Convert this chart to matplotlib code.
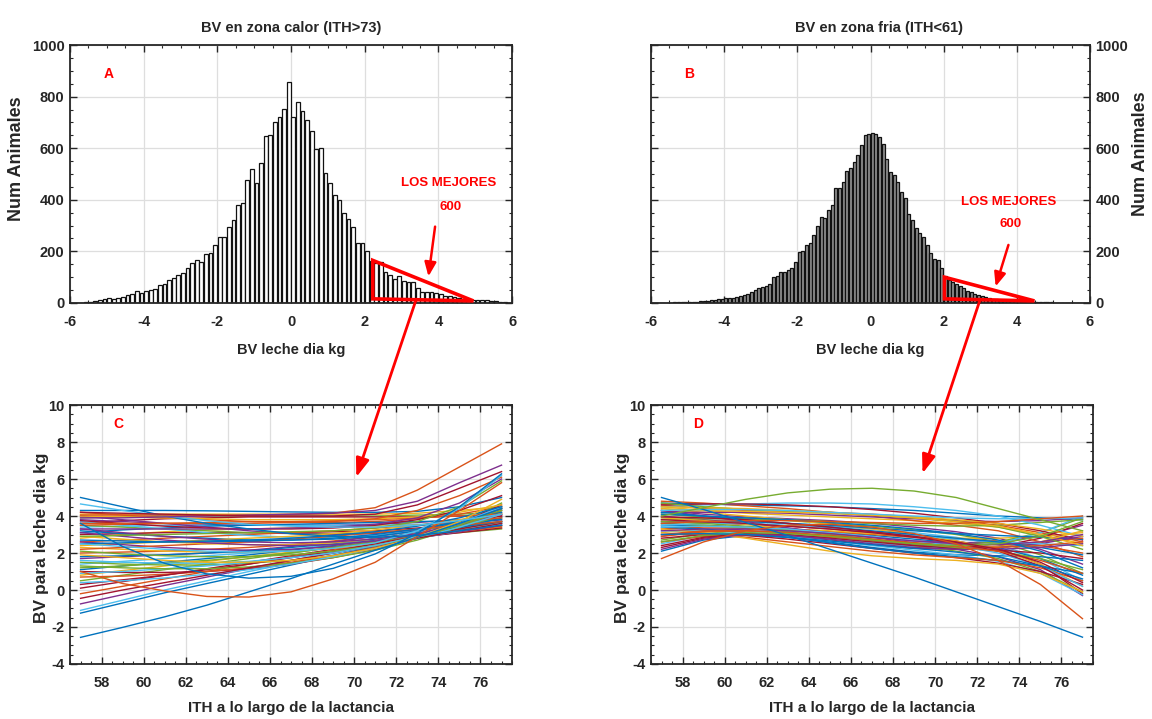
import numpy as np
import matplotlib
matplotlib.use("Agg")
import matplotlib.pyplot as plt
from matplotlib.patches import Polygon, ConnectionPatch
from matplotlib.ticker import MultipleLocator

NARROW = ["Liberation Sans Narrow", "Liberation Sans", "DejaVu Sans"]
WIDE = ["Liberation Sans", "DejaVu Sans"]
plt.rcParams["font.family"] = NARROW
plt.rcParams["font.weight"] = "bold"
plt.rcParams["axes.unicode_minus"] = False

MATLAB = ["#0072BD", "#D95319", "#EDB120", "#7E2F8E", "#77AC30", "#4DBEEE", "#A2142F"]
INK = "#262626"

# ---- histogram A: BV in hot zone (ITH>73), 96 bins of 0.125 from -6 to 6
calor_edges = np.linspace(-6, 6, 97)
calor_counts = [0, 0, 1, 2, 3, 6, 10, 14, 18, 16,
                18, 22, 30, 35, 46, 40, 45, 52, 55, 70,
                72, 90, 95, 110, 118, 135, 155, 165, 160, 190,
                195, 225, 255, 255, 296, 322, 380, 386, 477, 518,
                466, 541, 647, 651, 703, 722, 751, 856, 720, 781,
                746, 708, 665, 598, 602, 502, 466, 418, 401, 350,
                324, 296, 234, 234, 200, 163, 154, 157, 122, 108,
                93, 103, 84, 80, 80, 58, 44, 44, 44, 39,
                33, 28, 26, 22, 18, 17, 13, 13, 12, 13,
                10, 8, 6, 4, 3, 1]

# ---- histogram B: BV in cold zone (ITH<61), 120 bins of 0.1 from -6 to 6
frio_edges = np.linspace(-6, 6, 121)
frio_counts = [0, 0, 0, 1, 1, 1, 2, 2, 2, 3,
               4, 5, 5, 6, 8, 9, 11, 13, 15, 17,
               18, 20, 19, 24, 28, 32, 36, 42, 50, 58,
               63, 66, 72, 100, 103, 120, 122, 128, 135, 160,
               198, 200, 225, 232, 262, 300, 335, 330, 362, 380,
               444, 444, 470, 510, 522, 545, 575, 612, 651, 656,
               658, 655, 645, 615, 560, 509, 496, 470, 432, 406,
               345, 322, 290, 270, 257, 225, 193, 172, 165, 134,
               103, 90, 82, 74, 65, 58, 48, 42, 36, 30,
               26, 22, 20, 17, 14, 12, 11, 9, 8, 7,
               6, 5, 5, 4, 4, 3, 3, 2, 2, 2,
               1, 1, 1, 1, 0, 0, 0, 0, 0, 0]

# ---- BV curves of the 600 best animals along ITH
ith = [57, 59, 61, 63, 65, 67, 69, 71, 73, 75, 77]

calor_curves = [
    [4.3, 4.3, 4.3, 4.28, 4.25, 4.22, 4.2, 4.2, 4.25, 4.5, 5.0],
    [2.0, 2.05, 2.1, 2.2, 2.3, 2.45, 2.65, 2.9, 3.2, 3.6, 4.1],
    [4.1, 4.1, 4.1, 4.1, 4.1, 4.1, 4.1, 4.1, 4.15, 4.3, 4.5],
    [1.7, 1.8, 1.9, 2.0, 2.15, 2.35, 2.6, 2.9, 3.2, 3.5, 3.8],
    [3.9, 3.95, 4.0, 4.0, 4.0, 4.0, 4.0, 4.0, 4.05, 4.1, 4.2],
    [1.4, 1.55, 1.7, 1.85, 2.0, 2.2, 2.45, 2.75, 3.05, 3.35, 3.6],
    [3.6, 3.75, 3.85, 3.9, 3.95, 3.95, 3.95, 3.95, 3.95, 4.0, 4.0],
    [1.1, 1.3, 1.5, 1.7, 1.9, 2.15, 2.4, 2.7, 3.0, 3.25, 3.5],
    [4.2, 4.05, 3.9, 3.8, 3.7, 3.65, 3.65, 3.7, 3.85, 4.1, 4.5],
    [0.8, 1.05, 1.3, 1.55, 1.8, 2.05, 2.3, 2.6, 2.9, 3.15, 3.4],
    [3.8, 3.7, 3.6, 3.55, 3.5, 3.5, 3.5, 3.55, 3.65, 3.8, 4.0],
    [0.5, 0.8, 1.1, 1.4, 1.7, 2.0, 2.3, 2.6, 2.9, 3.1, 3.3],
    [3.4, 3.45, 3.5, 3.5, 3.5, 3.5, 3.5, 3.5, 3.55, 3.6, 3.7],
    [0.1, 0.45, 0.8, 1.15, 1.5, 1.85, 2.2, 2.55, 2.85, 3.1, 3.35],
    [3.1, 3.25, 3.35, 3.45, 3.5, 3.55, 3.6, 3.65, 3.7, 3.75, 3.8],
    [-0.2, 0.2, 0.6, 1.0, 1.4, 1.8, 2.15, 2.5, 2.85, 3.15, 3.45],
    [2.8, 3.0, 3.15, 3.25, 3.3, 3.35, 3.4, 3.45, 3.5, 3.55, 3.6],
    [-0.75, -0.25, 0.25, 0.7, 1.15, 1.6, 2.0, 2.4, 2.8, 3.15, 3.5],
    [3.5, 3.4, 3.3, 3.2, 3.1, 3.05, 3.05, 3.1, 3.25, 3.5, 3.9],
    [-1.1, -0.55, 0.0, 0.5, 1.0, 1.45, 1.9, 2.35, 2.8, 3.2, 3.6],
    [3.0, 3.05, 3.1, 3.1, 3.1, 3.1, 3.15, 3.2, 3.35, 3.6, 4.0],
    [-1.25, -0.7, -0.15, 0.35, 0.85, 1.35, 1.85, 2.35, 2.85, 3.35, 3.9],
    [2.6, 2.7, 2.8, 2.9, 3.0, 3.1, 3.2, 3.35, 3.5, 3.7, 3.9],
    [2.3, 2.2, 2.1, 2.05, 2.05, 2.1, 2.25, 2.5, 2.9, 3.5, 4.3],
    [4.0, 3.8, 3.6, 3.4, 3.2, 3.05, 3.0, 3.05, 3.25, 3.7, 4.4],
    [1.5, 1.4, 1.35, 1.35, 1.45, 1.6, 1.85, 2.25, 2.8, 3.6, 4.7],
    [3.7, 3.5, 3.3, 3.1, 2.95, 2.85, 2.85, 2.95, 3.2, 3.7, 4.5],
    [1.0, 0.95, 0.95, 1.0, 1.15, 1.4, 1.75, 2.2, 2.8, 3.6, 4.6],
    [3.2, 3.05, 2.9, 2.8, 2.7, 2.7, 2.75, 2.9, 3.2, 3.7, 4.4],
    [0.7, 0.75, 0.85, 1.0, 1.2, 1.5, 1.85, 2.3, 2.85, 3.5, 4.3],
    [2.4, 2.5, 2.6, 2.7, 2.8, 2.9, 3.05, 3.25, 3.5, 3.8, 4.1],
    [2.6, 2.45, 2.3, 2.2, 2.15, 2.2, 2.35, 2.6, 3.0, 3.6, 4.4],
    [1.2, 1.3, 1.45, 1.6, 1.8, 2.0, 2.3, 2.6, 2.95, 3.3, 3.7],
    [0.9, 1.0, 1.15, 1.3, 1.5, 1.75, 2.05, 2.4, 2.8, 3.2, 3.6],
    [0.3, 0.55, 0.8, 1.1, 1.4, 1.75, 2.1, 2.5, 2.9, 3.3, 3.7],
    [1.8, 1.85, 1.9, 2.0, 2.1, 2.3, 2.5, 2.8, 3.1, 3.4, 3.7],
    [2.2, 2.3, 2.4, 2.5, 2.6, 2.75, 2.9, 3.1, 3.3, 3.5, 3.7],
    [2.9, 2.75, 2.6, 2.5, 2.45, 2.45, 2.55, 2.75, 3.05, 3.5, 4.1],
    [3.3, 3.1, 2.9, 2.75, 2.6, 2.55, 2.6, 2.75, 3.05, 3.5, 4.1],
    [1.3, 1.2, 1.15, 1.15, 1.25, 1.45, 1.75, 2.15, 2.7, 3.4, 4.3],
    [0.4, 0.5, 0.65, 0.85, 1.1, 1.4, 1.8, 2.25, 2.8, 3.4, 4.1],
    [-0.45, 0.0, 0.4, 0.8, 1.2, 1.6, 2.0, 2.4, 2.8, 3.2, 3.6],
    [2.7, 2.65, 2.6, 2.6, 2.65, 2.7, 2.8, 3.0, 3.3, 3.7, 4.2],
    [3.5, 3.55, 3.6, 3.65, 3.7, 3.7, 3.75, 3.8, 3.9, 4.0, 4.1],
    [4.0, 3.95, 3.9, 3.85, 3.8, 3.8, 3.8, 3.85, 3.95, 4.2, 4.6],
    [3.1, 2.9, 2.7, 2.55, 2.45, 2.4, 2.45, 2.65, 3.0, 3.6, 4.5],
    [2.1, 1.95, 1.85, 1.8, 1.8, 1.9, 2.1, 2.4, 2.85, 3.5, 4.4],
    [1.6, 1.5, 1.45, 1.45, 1.55, 1.75, 2.0, 2.4, 2.9, 3.6, 4.5],
    [3.75, 3.6, 3.45, 3.35, 3.3, 3.3, 3.35, 3.5, 3.8, 4.3, 5.1],
    [2.5, 2.55, 2.6, 2.65, 2.7, 2.8, 2.95, 3.15, 3.45, 3.9, 4.5],
    [3.6, 3.6, 3.6, 3.6, 3.6, 3.65, 3.7, 3.85, 4.3, 5.1, 6.1],
    [1.9, 1.75, 1.6, 1.5, 1.5, 1.6, 1.85, 2.25, 2.85, 3.7, 4.9],
    [3.3, 3.3, 3.3, 3.3, 3.3, 3.35, 3.4, 3.55, 3.9, 4.7, 6.0],
    [2.9, 2.95, 3.0, 3.05, 3.1, 3.15, 3.2, 3.35, 3.7, 4.5, 5.9],
    [2.5, 2.35, 2.2, 2.1, 2.05, 2.1, 2.25, 2.55, 3.2, 4.4, 6.2],
]
calor_outliers = [
    [-2.56, -2.02, -1.45, -0.82, -0.1, 0.62, 1.4, 2.15, 2.85, 3.6, 4.4],
    [3.6, 2.35, 1.44, 0.87, 0.64, 0.74, 1.17, 1.95, 3.06, 4.5, 6.28],
    [1.0, 0.35, -0.05, -0.35, -0.38, -0.1, 0.6, 1.5, 2.9, 4.3, 5.8],
    [5.0, 4.5, 4.0, 3.6, 3.3, 3.05, 2.9, 2.85, 2.95, 3.2, 3.5],
    [4.65, 4.3, 4.0, 3.75, 3.55, 3.45, 3.4, 3.4, 3.5, 3.75, 4.1],
    [4.05, 4.05, 4.05, 4.05, 4.05, 4.08, 4.15, 4.45, 5.4, 6.65, 7.9],
    [3.9, 3.9, 3.95, 4.0, 4.05, 4.1, 4.15, 4.3, 4.8, 5.8, 6.75],
    [4.2, 4.15, 4.1, 4.05, 4.0, 4.0, 4.0, 4.1, 4.6, 5.5, 6.4],
]
calor_outlier_colors = [0, 0, 1, 0, 5, 1, 3, 6]

frio_curves = [
    [4.7, 4.65, 4.6, 4.55, 4.5, 4.4, 4.3, 4.15, 4.0, 3.9, 3.8],
    [4.6, 4.4, 4.3, 4.25, 4.2, 4.1, 3.95, 3.75, 3.5, 3.1, 2.6],
    [4.5, 4.3, 4.15, 4.05, 3.95, 3.85, 3.75, 3.6, 3.4, 3.0, 2.5],
    [4.3, 4.1, 3.95, 3.85, 3.75, 3.6, 3.4, 3.15, 2.8, 2.2, 1.4],
    [4.1, 3.95, 3.85, 3.75, 3.6, 3.45, 3.25, 3.0, 2.6, 1.9, 0.9],
    [3.9, 3.8, 3.7, 3.6, 3.45, 3.3, 3.1, 2.85, 2.45, 1.7, 0.5],
    [3.7, 3.65, 3.55, 3.45, 3.3, 3.1, 2.9, 2.65, 2.25, 1.4, -0.2],
    [3.5, 3.5, 3.4, 3.3, 3.15, 2.95, 2.75, 2.55, 2.3, 1.7, 0.8],
    [3.3, 3.4, 3.4, 3.3, 3.15, 3.0, 2.85, 2.75, 2.65, 2.4, 2.0],
    [3.1, 3.3, 3.35, 3.3, 3.2, 3.05, 2.9, 2.8, 2.8, 2.9, 3.1],
    [2.9, 3.2, 3.3, 3.2, 3.05, 2.85, 2.65, 2.55, 2.6, 2.9, 3.5],
    [2.7, 3.05, 3.2, 3.1, 2.9, 2.7, 2.5, 2.45, 2.6, 3.1, 3.9],
    [2.5, 2.95, 3.1, 3.0, 2.8, 2.55, 2.35, 2.3, 2.5, 3.1, 4.0],
    [2.3, 2.8, 3.0, 2.9, 2.7, 2.45, 2.25, 2.2, 2.35, 2.8, 3.6],
    [2.1, 2.7, 2.95, 2.85, 2.6, 2.3, 2.05, 1.9, 1.85, 1.8, 1.6],
    [4.8, 4.7, 4.55, 4.4, 4.2, 4.0, 3.75, 3.5, 3.2, 2.6, 1.8],
    [4.4, 4.2, 4.0, 3.8, 3.55, 3.3, 3.0, 2.65, 2.2, 1.4, 0.2],
    [4.0, 3.8, 3.6, 3.35, 3.1, 2.85, 2.55, 2.2, 1.8, 1.1, -0.3],
    [3.6, 3.5, 3.35, 3.15, 2.9, 2.65, 2.4, 2.1, 1.7, 1.0, -0.1],
    [3.2, 3.2, 3.1, 2.9, 2.65, 2.4, 2.15, 1.9, 1.55, 0.9, -0.25],
    [2.8, 3.0, 2.95, 2.75, 2.5, 2.25, 2.0, 1.75, 1.45, 1.0, 0.3],
    [3.4, 3.3, 3.1, 2.85, 2.55, 2.25, 2.0, 1.8, 1.6, 1.3, 0.9],
    [3.0, 3.0, 2.85, 2.6, 2.35, 2.1, 1.9, 1.75, 1.6, 1.2, 0.5],
    [3.3, 3.1, 2.8, 2.45, 2.1, 1.85, 1.7, 1.6, 1.4, 0.9, -0.1],
    [4.2, 4.2, 4.2, 4.15, 4.05, 3.95, 3.85, 3.75, 3.7, 3.75, 3.9],
    [3.8, 3.85, 3.85, 3.8, 3.7, 3.6, 3.5, 3.45, 3.5, 3.65, 3.8],
    [4.5, 4.6, 4.65, 4.7, 4.7, 4.65, 4.5, 4.3, 4.0, 3.5, 2.9],
    [4.6, 4.65, 4.65, 4.6, 4.5, 4.35, 4.15, 3.9, 3.6, 3.2, 2.7],
    [3.6, 3.7, 3.7, 3.6, 3.5, 3.35, 3.2, 3.05, 2.95, 2.85, 2.75],
    [2.6, 2.9, 3.0, 2.95, 2.85, 2.7, 2.55, 2.45, 2.45, 2.6, 2.8],
    [3.9, 3.75, 3.55, 3.3, 3.0, 2.75, 2.5, 2.35, 2.35, 2.6, 3.2],
    [4.3, 4.0, 3.7, 3.35, 3.0, 2.7, 2.45, 2.3, 2.3, 2.5, 2.9],
    [4.7, 4.5, 4.35, 4.25, 4.15, 4.05, 3.9, 3.7, 3.4, 2.9, 2.2],
    [3.5, 3.6, 3.6, 3.5, 3.35, 3.15, 2.95, 2.75, 2.6, 2.5, 2.4],
    [2.4, 2.85, 3.05, 3.0, 2.8, 2.6, 2.4, 2.25, 2.15, 2.0, 1.7],
    [4.2, 4.0, 3.8, 3.6, 3.4, 3.2, 3.0, 2.8, 2.6, 2.3, 1.9],
    [3.0, 3.2, 3.2, 3.1, 2.9, 2.7, 2.5, 2.35, 2.3, 2.4, 2.6],
    [4.4, 4.3, 4.25, 4.2, 4.15, 4.05, 3.95, 3.8, 3.6, 3.3, 2.9],
    [2.2, 2.75, 3.0, 2.95, 2.75, 2.5, 2.3, 2.2, 2.2, 2.3, 2.5],
    [3.7, 3.6, 3.45, 3.25, 3.0, 2.75, 2.5, 2.3, 2.1, 1.7, 1.1],
    [3.4, 3.45, 3.4, 3.3, 3.1, 2.9, 2.65, 2.4, 2.0, 1.3, 0.2],
    [3.8, 3.7, 3.6, 3.45, 3.3, 3.1, 2.85, 2.55, 2.1, 1.3, 0.0],
    [4.1, 4.0, 3.9, 3.8, 3.65, 3.5, 3.3, 3.05, 2.7, 2.1, 1.2],
    [2.9, 3.15, 3.2, 3.1, 2.95, 2.75, 2.55, 2.35, 2.1, 1.6, 0.9],
    [4.5, 4.45, 4.4, 4.3, 4.2, 4.05, 3.9, 3.7, 3.45, 3.0, 2.4],
    [3.2, 3.3, 3.3, 3.2, 3.05, 2.85, 2.65, 2.5, 2.45, 2.6, 3.0],
    [2.6, 2.95, 3.1, 3.05, 2.9, 2.7, 2.5, 2.4, 2.5, 2.9, 3.7],
    [4.3, 4.35, 4.35, 4.3, 4.2, 4.1, 4.0, 3.9, 3.85, 3.85, 3.9],
    [3.95, 3.9, 3.8, 3.6, 3.4, 3.15, 2.9, 2.6, 2.2, 1.5, 0.4],
    [3.0, 3.05, 3.0, 2.85, 2.65, 2.45, 2.25, 2.05, 1.8, 1.3, 0.6],
    [3.6, 3.7, 3.75, 3.75, 3.7, 3.65, 3.6, 3.6, 3.7, 3.85, 4.0],
]
frio_outliers = [
    [5.0, 4.35, 3.65, 2.95, 2.2, 1.45, 0.7, -0.1, -0.9, -1.7, -2.55],
    [4.0, 4.45, 4.9, 5.25, 5.45, 5.5, 5.35, 5.0, 4.4, 3.8, 3.2],
    [1.7, 2.6, 3.2, 3.5, 3.55, 3.4, 3.05, 2.5, 1.6, 0.3, -1.55],
]
frio_outlier_colors = [0, 4, 1]


def style_axes(ax):
    ax.grid(True, which="major", color="#dedede", lw=0.9)
    ax.set_axisbelow(True)
    for s in ax.spines.values():
        s.set_color(INK)
        s.set_linewidth(1.3)
    ax.tick_params(which="both", direction="in", top=True, right=True,
                   color=INK, labelcolor=INK)
    ax.tick_params(which="major", length=5, width=1.0, labelsize=10.5)
    ax.tick_params(which="minor", length=2.5, width=0.8)
    ax.tick_params(axis="x", pad=9)
    ax.tick_params(axis="y", pad=4)


def red_label(ax, x, y, s, size=10):
    ax.text(x, y, s, color="red", fontsize=size, ha="center", va="center")


fig = plt.figure(figsize=(11.52, 7.19), dpi=100)
axA = fig.add_axes([0.0608, 0.5786, 0.3837, 0.3588])
axB = fig.add_axes([0.5651, 0.5786, 0.3811, 0.3588])
axC = fig.add_axes([0.0608, 0.0765, 0.3837, 0.3602])
axD = fig.add_axes([0.5651, 0.0765, 0.3837, 0.3602])

# ---- histograms
for ax, edges, counts, face in [(axA, calor_edges, calor_counts, "white"),
                                (axB, frio_edges, frio_counts, "#8f8f8f")]:
    centers = (edges[:-1] + edges[1:]) / 2
    width = (edges[1] - edges[0]) * 0.82
    ax.bar(centers, counts, width=width, facecolor=face,
           edgecolor="#111111", linewidth=0.9, zorder=2)
    style_axes(ax)
    ax.set_xlim(-6, 6)
    ax.set_ylim(0, 1000)
    ax.xaxis.set_major_locator(MultipleLocator(2))
    ax.xaxis.set_minor_locator(MultipleLocator(0.5))
    ax.yaxis.set_major_locator(MultipleLocator(200))
    ax.yaxis.set_minor_locator(MultipleLocator(50))
    ax.text(0.5, -0.182, "BV leche dia kg", transform=ax.transAxes,
            ha="center", va="center", fontsize=10.5, color=INK)

axB.tick_params(axis="y", labelleft=False, labelright=True)

axA.text(0.5, 1.066, "BV en zona calor (ITH>73)", transform=axA.transAxes,
         ha="center", va="center", fontsize=10.5, color=INK)
axB.text(0.52, 1.066, "BV en zona fria (ITH<61)", transform=axB.transAxes,
         ha="center", va="center", fontsize=10.5, color=INK)
axA.text(-0.12, 0.56, "Num Animales", transform=axA.transAxes, rotation=90,
         ha="center", va="center", fontsize=13, color=INK, family=WIDE)
axB.text(1.115, 0.58, "Num Animales", transform=axB.transAxes, rotation=90,
         ha="center", va="center", fontsize=13, color=INK, family=WIDE)

# best-600 triangles and labels
axA.add_patch(Polygon([(2.22, 165), (2.22, 16), (4.95, 8)], closed=True,
                      fill=False, edgecolor="red", lw=2.6, zorder=5))
axB.add_patch(Polygon([(2.02, 100), (2.02, 16), (4.48, 8)], closed=True,
                      fill=False, edgecolor="red", lw=2.6, zorder=5))
red_label(axA, -4.95, 886, "A")
red_label(axB, -4.95, 886, "B")
red_label(axA, 4.28, 466, "LOS MEJORES", 9.5)
red_label(axA, 4.33, 373, "600", 9.5)
red_label(axB, 3.77, 392, "LOS MEJORES", 9.5)
red_label(axB, 3.82, 306, "600", 9.5)
arrow_kw = dict(arrowstyle="-|>,head_length=0.6,head_width=0.25", color="red",
                lw=1.8, shrinkA=0, shrinkB=0, mutation_scale=14)
axA.annotate("", xy=(3.73, 103), xytext=(3.91, 296), arrowprops=arrow_kw)
axB.annotate("", xy=(3.42, 64), xytext=(3.77, 225), arrowprops=arrow_kw)

# ---- BV curves along ITH
for ax, curves, outliers, ocols in [(axC, calor_curves, calor_outliers, calor_outlier_colors),
                                    (axD, frio_curves, frio_outliers, frio_outlier_colors)]:
    for i, c in enumerate(curves):
        ax.plot(ith, c, color=MATLAB[i % len(MATLAB)], lw=1.0, zorder=3)
    for c, ci in zip(outliers, ocols):
        ax.plot(ith, c, color=MATLAB[ci], lw=1.0, zorder=3)
    style_axes(ax)
    ax.set_xlim(56.5, 77.5)
    ax.set_ylim(-4, 10)
    ax.xaxis.set_minor_locator(MultipleLocator(0.5))
    ax.yaxis.set_major_locator(MultipleLocator(2))
    ax.yaxis.set_minor_locator(MultipleLocator(0.5))
    ax.set_xticks(np.arange(58, 77, 2))
    ax.text(0.5, -0.17, "ITH a lo largo de la lactancia", transform=ax.transAxes,
            ha="center", va="center", fontsize=11, color=INK)
    ax.text(-0.065, 0.486, "BV para leche dia kg", transform=ax.transAxes,
            rotation=90, ha="center", va="center", fontsize=12.5, color=INK,
            family=WIDE)

red_label(axC, 58.8, 8.95, "C")
red_label(axD, 58.75, 8.95, "D")

# big arrows from the best animals to their curves
for src, dst, p0, p1 in [(axA, axC, (3.4, 15), (70.1, 6.1)),
                         (axB, axD, (3.0, 15), (69.4, 6.3))]:
    con = ConnectionPatch(xyA=p0, coordsA="data", axesA=src,
                          xyB=p1, coordsB="data", axesB=dst,
                          arrowstyle="-|>,head_length=0.7,head_width=0.25",
                          color="red", lw=2.0, mutation_scale=16, zorder=10)
    fig.add_artist(con)

fig.savefig("out.png", dpi=100, facecolor="white")
